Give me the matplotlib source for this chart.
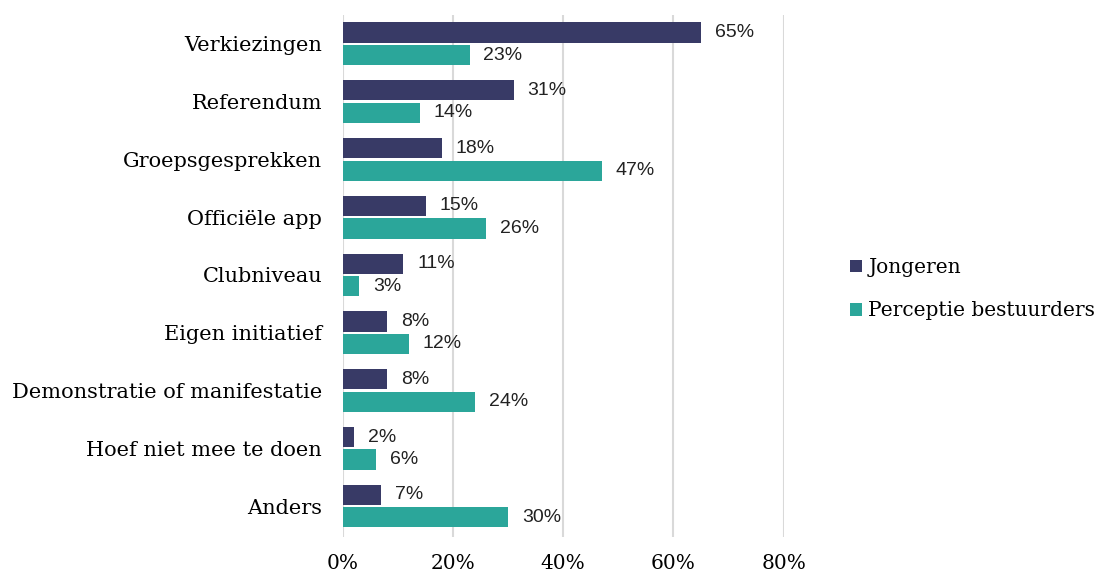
import matplotlib.pyplot as plt
import numpy as np

categories = ["Verkiezingen", "Referendum", "Groepsgesprekken", "Officiële app",
              "Clubniveau", "Eigen initiatief", "Demonstratie of manifestatie",
              "Hoef niet mee te doen", "Anders"]
jongeren = [65, 31, 18, 15, 11, 8, 8, 2, 7]
bestuurders = [23, 14, 47, 26, 3, 12, 24, 6, 30]
series_names = ["Jongeren", "Perceptie bestuurders"]
xticks = [0, 20, 40, 60, 80]

navy = "#383a66"
teal = "#2ba69a"
serif = "DejaVu Serif"

fig = plt.figure(figsize=(10.99, 5.74), dpi=100)
ax = fig.add_axes([0.312, 0.064, 0.401, 0.91])

y = np.arange(len(categories))
h = 0.35
b1 = ax.barh(y - h / 2 - 0.02, jongeren, height=h, color=navy, label=series_names[0], zorder=3)
b2 = ax.barh(y + h / 2 + 0.02, bestuurders, height=h, color=teal, label=series_names[1], zorder=3)

for bars, vals in [(b1, jongeren), (b2, bestuurders)]:
    for bar, v in zip(bars, vals):
        ax.annotate(f"{v}%", (v, bar.get_y() + bar.get_height() / 2),
                    xytext=(10, 0), textcoords="offset points",
                    va="center", ha="left", fontsize=14,
                    family="Liberation Sans", color="#222222")

ax.set_ylim(len(categories) - 0.46, -0.5)
ax.set_xlim(0, 80)
ax.set_yticks(y)
ax.set_yticklabels(categories, family=serif, fontsize=15)
ax.set_xticks(xticks)
ax.set_xticklabels([f"{t}%" for t in xticks], family=serif, fontsize=14.5)
ax.tick_params(length=0)
ax.tick_params(axis="y", pad=15)
ax.tick_params(axis="x", pad=12)
ax.grid(axis="x", color="#d9d9d9", linewidth=1.5, zorder=0)
for s in ax.spines.values():
    s.set_visible(False)

ax.legend(loc="center left", bbox_to_anchor=(1.133, 0.475), frameon=False,
          prop={"family": serif, "size": 14.5}, handlelength=0.6,
          handleheight=0.6, handletextpad=0.3, labelspacing=1.2,
          borderaxespad=0)

fig.savefig("out.png", dpi=100)
